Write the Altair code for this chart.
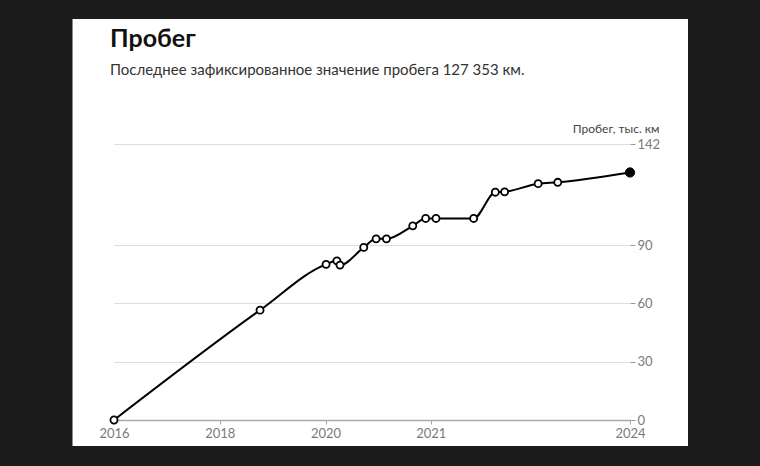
import altair as alt
import pandas as pd

# Position along the (non-uniform) time axis, 0 = 2016 tick, 100 = 2024 tick
pos = [0, 28.3, 41.1, 43.2, 43.8, 48.4, 50.8, 52.8, 57.9, 60.4, 62.4, 69.7, 73.9, 75.7, 82.2, 86.0, 100]
# Mileage, thousand km
mileage = [0, 56.5, 80.1, 81.9, 79.7, 88.8, 93.2, 93.2, 99.9, 103.7, 103.7, 103.7, 117.2, 117.4, 121.6, 122.3, 127.353]
last_flag = [False] * 16 + [True]

x_tick_values = [0, 20.5, 41, 61.4, 100]
x_tick_labels = ["2016", "2018", "2020", "2021", "2024"]
y_tick_values = [0, 30, 60, 90, 142]

title_text = "Пробег"
subtitle_text = "Последнее зафиксированное значение пробега 127 353 км."
y_axis_title = "Пробег, тыс. км"

FONT = "Lato"
DARK = "#1c1c1c"

df = pd.DataFrame({"pos": pos, "mileage": mileage, "last": last_flag})

label_map = "{" + ",".join(f"'{v}':'{l}'" for v, l in zip(x_tick_values, x_tick_labels)) + "}"

x_enc = alt.X(
    "pos:Q",
    scale=alt.Scale(domain=[0, 100], nice=False, zero=False),
    axis=alt.Axis(
        values=x_tick_values,
        labelExpr=f"{label_map}[datum.value + '']",
        title=None,
        grid=False,
        domain=True,
        domainColor="#aaaaaa",
        domainWidth=1.5,
        ticks=True,
        tickColor="#aaaaaa",
        tickSize=4,
        labelColor="#7a7a7a",
        labelFontSize=13,
        labelFont=FONT,
        labelPadding=3,
        labelFlush=False,
    ),
)
y_enc = alt.Y(
    "mileage:Q",
    scale=alt.Scale(domain=[0, 142], nice=False),
    axis=alt.Axis(
        orient="right",
        values=y_tick_values,
        title=y_axis_title,
        titleAngle=0,
        titleX=29,
        titleY=-12,
        titleAlign="right",
        titleBaseline="alphabetic",
        titleFont=FONT,
        titleFontSize=12,
        titleFontWeight="normal",
        titleColor="#444444",
        grid=True,
        gridColor="#dddddd",
        gridWidth=1.2,
        domain=False,
        ticks=True,
        tickColor="#999999",
        tickSize=5,
        labelColor="#7a7a7a",
        labelFontSize=13,
        labelFont=FONT,
        labelPadding=2,
    ),
)

one = pd.DataFrame({"a": [0]})
frame_left = alt.Chart(one).mark_rect(color=DARK).encode(
    x=alt.value(-120), x2=alt.value(-41.5), y=alt.value(-150), y2=alt.value(330)
)
frame_right = alt.Chart(one).mark_rect(color=DARK).encode(
    x=alt.value(574), x2=alt.value(660), y=alt.value(-150), y2=alt.value(330)
)
frame_top = alt.Chart(one).mark_rect(color=DARK).encode(
    x=alt.value(-120), x2=alt.value(660), y=alt.value(-150), y2=alt.value(-125)
)
frame_bottom = alt.Chart(one).mark_rect(color=DARK).encode(
    x=alt.value(-120), x2=alt.value(660), y=alt.value(302), y2=alt.value(330)
)

line = alt.Chart(df).mark_line(
    color="black", strokeWidth=2, interpolate="monotone"
).encode(x=x_enc, y=y_enc)

open_pts = alt.Chart(df).transform_filter("!datum.last").mark_point(
    shape="circle", filled=True, fill="white", stroke="black", strokeWidth=1.8, size=50, opacity=1
).encode(x="pos:Q", y="mileage:Q")

last_pt = alt.Chart(df).transform_filter("datum.last").mark_point(
    shape="circle", filled=True, fill="black", stroke="black", strokeWidth=1, size=85, opacity=1
).encode(x="pos:Q", y="mileage:Q")

title = alt.Chart(pd.DataFrame({"t": [title_text]})).mark_text(
    align="left", baseline="alphabetic", font=FONT, fontSize=25, fontWeight="bold", color="#111111"
).encode(text="t:N", x=alt.value(-4), y=alt.value(-97))

subtitle = alt.Chart(pd.DataFrame({"t": [subtitle_text]})).mark_text(
    align="left", baseline="alphabetic", font=FONT, fontSize=15, color="#333333"
).encode(text="t:N", x=alt.value(-4), y=alt.value(-69))

chart = alt.layer(
    frame_left, frame_right, frame_top, frame_bottom, line, open_pts, last_pt, title, subtitle
).properties(
    width=516,
    height=276,
    autosize=alt.AutoSizeParams(type="none"),
    padding={"left": 114, "top": 144, "right": 130, "bottom": 46},
    background="white",
).configure_view(stroke=None)

chart.save("out.html", embed_options={"renderer": "svg", "actions": False})
